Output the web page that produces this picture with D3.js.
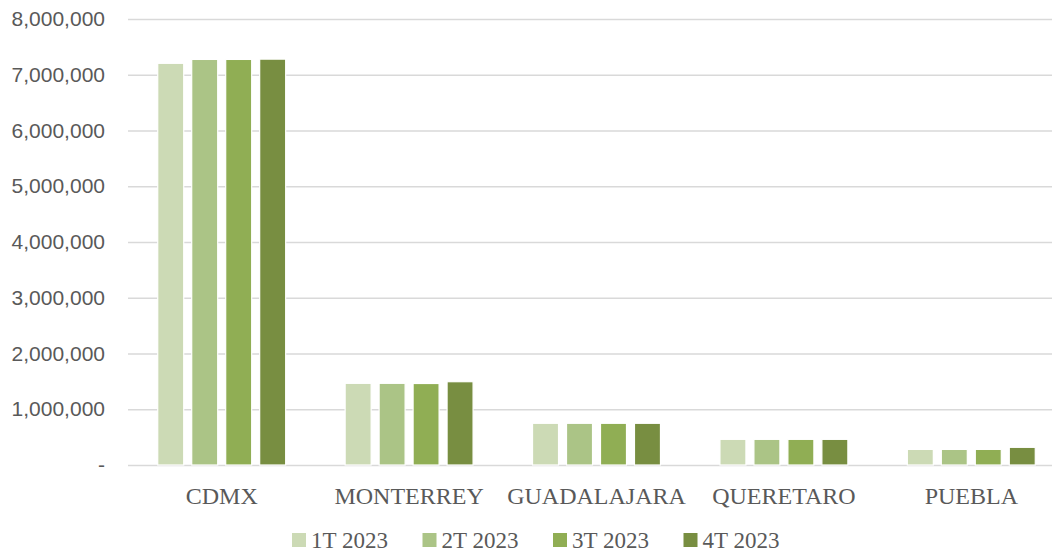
<!DOCTYPE html>
<html>
<head>
<meta charset="utf-8">
<script src="https://cdn.jsdelivr.net/npm/d3@7"></script>
<style>
  body { margin: 0; background: #fff; }
  svg { display: block; }
</style>
</head>
<body>
<div class="chart"></div>
<script>
const cities = ['CDMX', 'MONTERREY', 'GUADALAJARA', 'QUERETARO', 'PUEBLA'];
const quarters = ['1T 2023', '2T 2023', '3T 2023', '4T 2023'];
const q1 = [7205000, 1465000, 748000, 460000, 280000];
const q2 = [7275000, 1465000, 748000, 460000, 280000];
const q3 = [7275000, 1462000, 748000, 460000, 280000];
const q4 = [7280000, 1494000, 748000, 460000, 317000];
const yTicks = [0, 1000000, 2000000, 3000000, 4000000, 5000000, 6000000, 7000000, 8000000];
const colors = ['#ccdab5', '#abc486', '#90ae54', '#788e41'];

const series = [q1, q2, q3, q4];
const width = 1052, height = 552;

const svg = d3.select('.chart').append('svg')
    .attr('width', width)
    .attr('height', height);

const x0 = d3.scaleBand()
    .domain(cities)
    .range([128, 1065])
    .paddingInner(0.2747)
    .paddingOuter(0.13735);

const x1 = d3.scaleBand()
    .domain(quarters)
    .range([0, x0.bandwidth()])
    .paddingInner(0.235)
    .paddingOuter(0.1175);

const y = d3.scaleLinear()
    .domain([0, 8000000])
    .range([465, 19]);

const fmt = d3.format(',');

// gridlines + y labels
const yAxis = d3.axisLeft(y)
    .tickValues(yTicks)
    .tickSize(-(width - 128))
    .tickPadding(23)
    .tickFormat(d => d === 0 ? '-' : fmt(d));

svg.append('g')
    .attr('transform', 'translate(128,0)')
    .call(yAxis)
    .call(g => g.select('.domain').remove())
    .call(g => g.selectAll('line').attr('stroke', '#d9d9d9').attr('stroke-width', 1.3))
    .call(g => g.selectAll('text')
      .attr('fill', '#595959')
      .style('font-family', '"Liberation Sans", Arial, sans-serif')
      .style('font-size', '21px'));

// bars
const groups = svg.selectAll('.group')
  .data(cities)
  .enter().append('g')
    .attr('class', 'group')
    .attr('transform', d => 'translate(' + x0(d) + ',0)');

groups.selectAll('rect')
  .data((d, i) => quarters.map((q, j) => ({ q: q, v: series[j][i], c: j })))
  .enter().append('rect')
    .attr('x', d => x1(d.q))
    .attr('width', x1.bandwidth())
    .attr('y', d => y(d.v))
    .attr('height', d => y(0) - y(d.v))
    .attr('fill', d => colors[d.c])
    .attr('stroke', '#fff')
    .attr('stroke-width', 1.2);

// category labels
const xAxis = d3.axisBottom(x0).tickSize(0).tickPadding(22);
svg.append('g')
    .attr('transform', 'translate(0,465)')
    .call(xAxis)
    .call(g => g.select('.domain').remove())
    .call(g => g.selectAll('text')
      .attr('fill', '#595959')
      .style('font-family', '"Liberation Serif", "Times New Roman", serif')
      .style('font-size', '24px'));

// legend
const legend = svg.append('g')
  .selectAll('g')
  .data(quarters)
  .enter().append('g')
    .attr('transform', (d, i) => 'translate(' + (292 + i * 130.5) + ',533)');

legend.append('rect')
    .attr('width', 14)
    .attr('height', 14)
    .attr('fill', (d, i) => colors[i]);

legend.append('text')
    .attr('x', 19)
    .attr('y', 15)
    .attr('fill', '#595959')
    .style('font-family', '"Liberation Serif", "Times New Roman", serif')
    .style('font-size', '23px')
    .text(d => d);
</script>
</body>
</html>
